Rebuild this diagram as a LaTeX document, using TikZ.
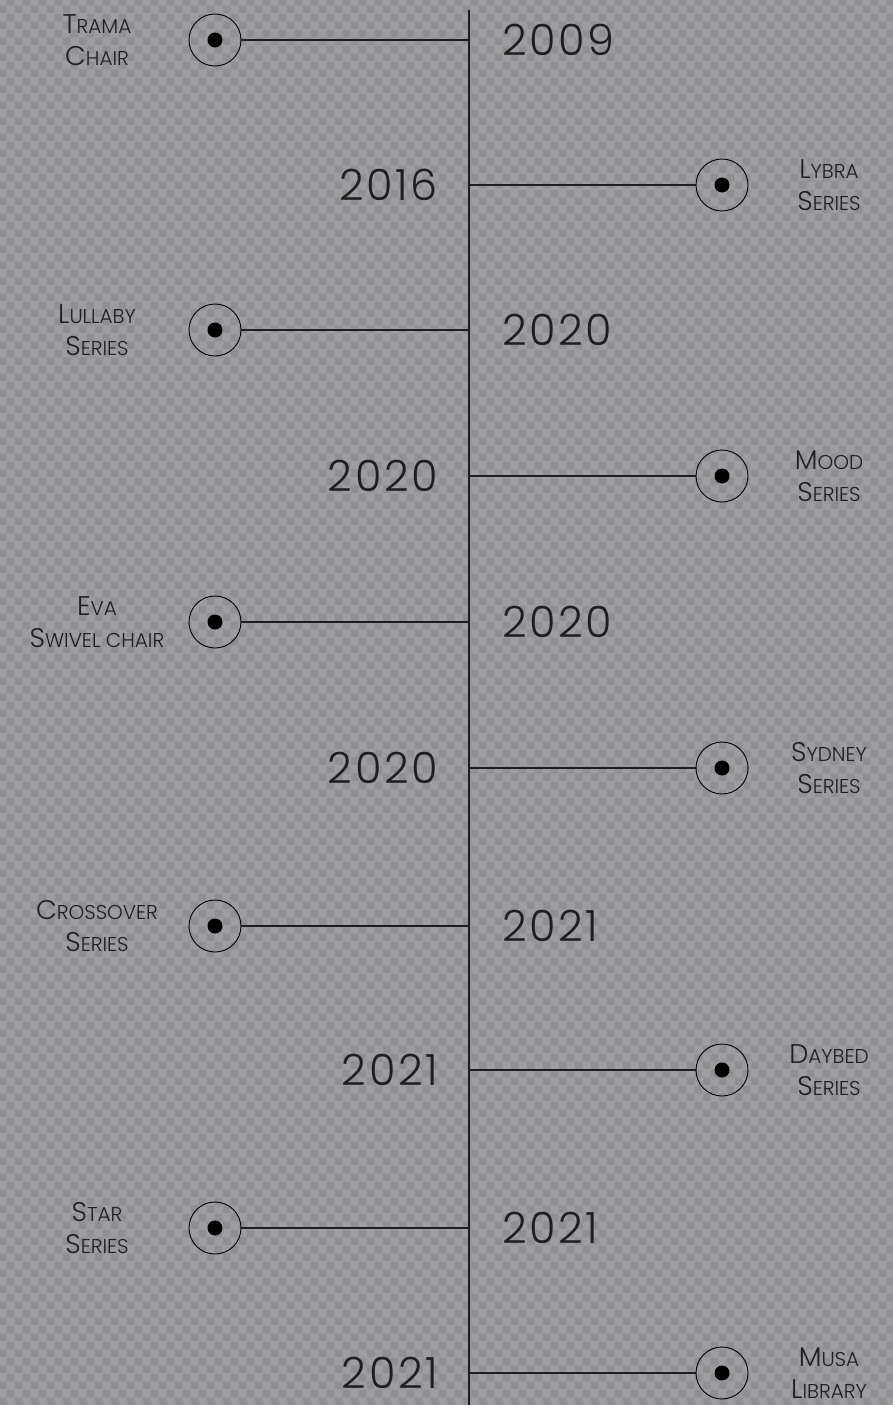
\documentclass[tikz,border=0pt]{standalone}
\usepackage{fontspec}
\setmainfont{Poppins}
\newfontfamily\thinfont{Poppins Light}
\usetikzlibrary{patterns}
\pgfdeclarepatternformonly{checks}{\pgfpointorigin}{\pgfqpoint{16pt}{16pt}}{\pgfqpoint{16pt}{16pt}}{%
  \pgfpathrectangle{\pgfpointorigin}{\pgfqpoint{8pt}{8pt}}%
  \pgfpathrectangle{\pgfqpoint{8pt}{8pt}}{\pgfqpoint{8pt}{8pt}}%
  \pgfusepath{fill}}
\definecolor{bglight}{HTML}{9C9CA1}
\definecolor{bgdark}{HTML}{8F8F94}
\definecolor{ink}{HTML}{1E1E1E}
\newcommand{\smc}[2]{#1{\fontsize{20}{24}\selectfont #2}}
\tikzset{
  yearlbl/.style={inner sep=0pt, text=ink, font=\thinfont\addfontfeatures{LetterSpace=6}\fontsize{43}{50}\selectfont},
  namelbl/.style={inner sep=0pt, align=center, text=ink, font=\thinfont\fontsize{27}{32}\selectfont},
  ring/.style={draw=black, circle, line width=0.9pt, minimum size=52pt, inner sep=0pt},
  dot/.style={fill=black, circle, minimum size=15pt, inner sep=0pt},
  stem/.style={draw=ink, line width=1.2pt}
}
\begin{document}
\begin{tikzpicture}[x=1pt,y=-1pt]
  \fill[bglight] (0,0) rectangle (893,1405);
  \fill[pattern=checks, pattern color=bgdark] (0,0) rectangle (893,1405);
  \useasboundingbox (0,0) rectangle (893,1405);
  % spine
  \coordinate (top) at (469,10);
  \coordinate (bottom) at (469,1405);
  \draw[stem] (top) -- (bottom);
  % items on the left
  \foreach \y/\yr/\nm [count=\i] in {
      40/2009/{\smc{T}{RAMA}\\\smc{C}{HAIR}},
      330/2020/{\smc{L}{ULLABY}\\\smc{S}{ERIES}},
      622/2020/{\smc{E}{VA}\\\smc{S}{WIVEL CHAIR}},
      926/2021/{\smc{C}{ROSSOVER}\\\smc{S}{ERIES}},
      1228/2021/{\smc{S}{TAR}\\\smc{S}{ERIES}}} {
    \coordinate (sl\i) at (469,\y);
    \node[ring] (cl\i) at (215,\y) {};
    \node[dot] at (cl\i) {};
    \node[namelbl] (nl\i) at (97,\y) {\nm};
    \node[yearlbl, anchor=west] (yl\i) at (502,\y) {\yr};
    \draw[stem] (cl\i) -- (sl\i);
  }
  % items on the right
  \foreach \y/\yr/\nm [count=\i] in {
      185/2016/{\smc{L}{YBRA}\\\smc{S}{ERIES}},
      476/2020/{\smc{M}{OOD}\\\smc{S}{ERIES}},
      768/2020/{\smc{S}{YDNEY}\\\smc{S}{ERIES}},
      1070/2021/{\smc{D}{AYBED}\\\smc{S}{ERIES}},
      1373/2021/{\smc{M}{USA}\\\smc{L}{IBRARY}}} {
    \coordinate (sr\i) at (469,\y);
    \node[ring] (cr\i) at (722,\y) {};
    \node[dot] at (cr\i) {};
    \node[namelbl] (nr\i) at (829,\y) {\nm};
    \node[yearlbl, anchor=east] (yr\i) at (438,\y) {\yr};
    \draw[stem] (sr\i) -- (cr\i);
  }
\end{tikzpicture}
\end{document}
